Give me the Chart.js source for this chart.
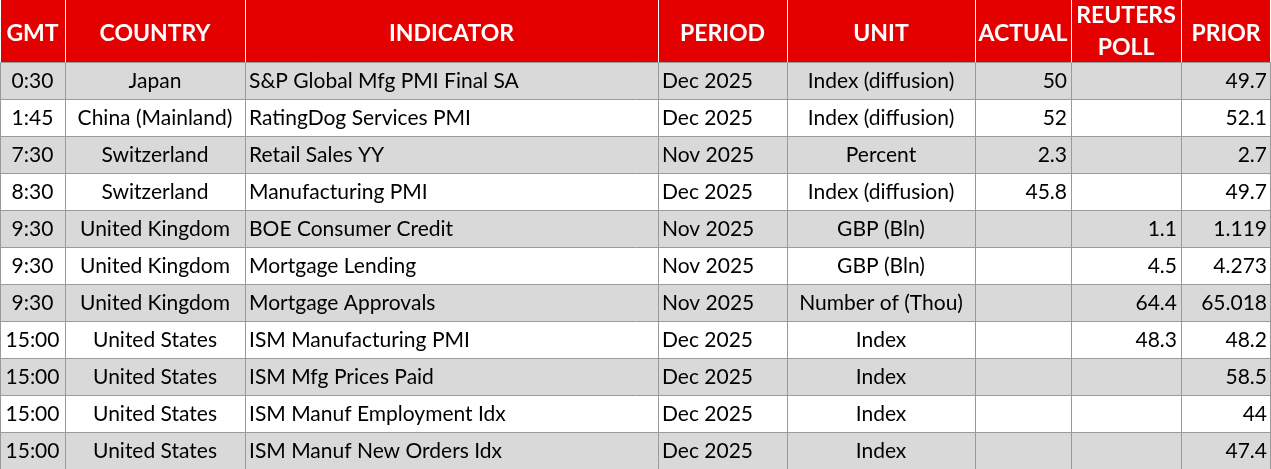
<!DOCTYPE html>
<html><head><meta charset="utf-8">
<script src="https://cdn.jsdelivr.net/npm/chart.js@4/dist/chart.umd.min.js"></script>
<style>html,body{margin:0;padding:0;background:#fff}canvas{display:block}</style>
</head><body>
<canvas id="c" width="1271" height="469"></canvas>
<script>
const headers = ["GMT","COUNTRY","INDICATOR","PERIOD","UNIT","ACTUAL","REUTERS\nPOLL","PRIOR"];
const gmt = ["0:30","1:45","7:30","8:30","9:30","9:30","9:30","15:00","15:00","15:00","15:00"];
const country = ["Japan","China (Mainland)","Switzerland","Switzerland","United Kingdom","United Kingdom","United Kingdom","United States","United States","United States","United States"];
const indicator = ["S&P Global Mfg PMI Final SA","RatingDog Services PMI","Retail Sales YY","Manufacturing PMI","BOE Consumer Credit","Mortgage Lending","Mortgage Approvals","ISM Manufacturing PMI","ISM Mfg Prices Paid","ISM Manuf Employment Idx","ISM Manuf New Orders Idx"];
const period = ["Dec 2025","Dec 2025","Nov 2025","Dec 2025","Nov 2025","Nov 2025","Nov 2025","Dec 2025","Dec 2025","Dec 2025","Dec 2025"];
const unit = ["Index (diffusion)","Index (diffusion)","Percent","Index (diffusion)","GBP (Bln)","GBP (Bln)","Number of (Thou)","Index","Index","Index","Index"];
const actual = ["50","52","2.3","45.8","","","","","","",""];
const poll = ["","","","","1.1","4.5","64.4","48.3","","",""];
const prior = ["49.7","52.1","2.7","49.7","1.119","4.273","65.018","48.2","58.5","44","47.4"];

const columns = [gmt,country,indicator,period,unit,actual,poll,prior];
const colEdges = [0,65,245,658,787,975,1071,1181,1271];
const aligns = ["center","center","left","left","center","right","right","right"];
const headerH = 62;
const rowH = (469-headerH)/gmt.length;
const FONT = "Lato, 'Open Sans', sans-serif";

const tablePlugin = {
  id:'table',
  afterDraw(chart){
    const ctx = chart.ctx, xs = chart.scales.x, ys = chart.scales.y;
    const X = v=>xs.getPixelForValue(v), Y = v=>ys.getPixelForValue(v);
    ctx.save();
    ctx.fillStyle = '#e50000';
    ctx.fillRect(X(0),Y(0),X(1271)-X(0),Y(headerH)-Y(0));
    ctx.fillStyle='#fff'; ctx.font = "bold 23px "+FONT; ctx.textAlign='center'; ctx.textBaseline='middle';
    headers.forEach((h,c)=>{
      const cx = (X(colEdges[c])+X(colEdges[c+1]))/2;
      const lines = h.split("\n");
      if(lines.length===1) ctx.fillText(h,cx,Y(headerH/2)+3);
      else { ctx.fillText(lines[0],cx,Y(16)); ctx.fillText(lines[1],cx,Y(48)); }
    });
    for(let r=0;r<gmt.length;r++){
      const top = headerH + r*rowH;
      ctx.fillStyle = r%2===0 ? '#d9d9d9' : '#ffffff';
      ctx.fillRect(X(0),Y(top),X(1271)-X(0),Y(top+rowH)-Y(top));
      ctx.fillStyle='#000'; ctx.font="21px "+FONT;
      columns.forEach((col,c)=>{
        const v = col[r]; if(!v) return;
        let x; const a=aligns[c]; ctx.textAlign=a;
        if(a==='center') x=(X(colEdges[c])+X(colEdges[c+1]))/2;
        else if(a==='left') x=X(colEdges[c])+4;
        else x=X(colEdges[c+1])-4;
        ctx.fillText(v,x,Y(top+rowH/2)+1);
      });
    }
    ctx.strokeStyle='#9a9a9a'; ctx.lineWidth=1;
    for(let r=0;r<=gmt.length;r++){
      const y=Math.round(Y(headerH+r*rowH))+0.5;
      ctx.beginPath(); ctx.moveTo(X(0),y); ctx.lineTo(X(1271),y); ctx.stroke();
    }
    colEdges.forEach((e,i)=>{
      const x=Math.min(Math.round(X(e))+0.5, X(1271)-0.5);
      ctx.strokeStyle = '#9a9a9a';
      ctx.beginPath(); ctx.moveTo(x,Y(headerH)); ctx.lineTo(x,Y(469)); ctx.stroke();
      ctx.strokeStyle = '#ffffff';
      ctx.beginPath(); ctx.moveTo(x,Y(0)); ctx.lineTo(x,Y(headerH)); ctx.stroke();
    });
    ctx.restore();
  }
};

new Chart(document.getElementById('c'),{
  type:'scatter',
  data:{datasets:[{data:[],pointRadius:0}]},
  options:{
    responsive:false, animation:false,
    layout:{padding:0},
    plugins:{legend:{display:false},tooltip:{enabled:false}},
    scales:{
      x:{type:'linear',min:0,max:1271,display:false},
      y:{type:'linear',min:0,max:469,reverse:true,display:false}
    }
  },
  plugins:[tablePlugin]
});
</script>
</body></html>
